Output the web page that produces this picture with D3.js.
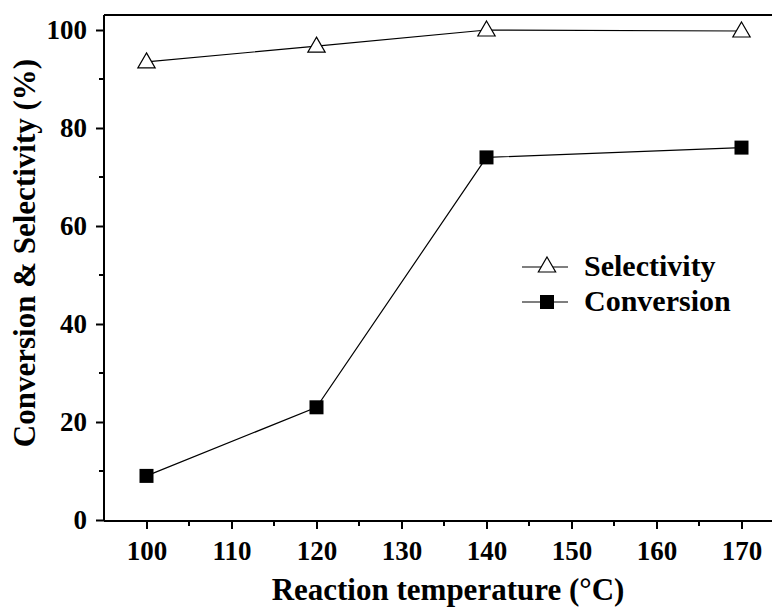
<!DOCTYPE html>
<html>
<head>
<meta charset="utf-8">
<script src="https://cdn.jsdelivr.net/npm/d3@7"></script>
<style>
  body { margin: 0; background: #fff; }
  text { font-family: "Liberation Serif", "Times New Roman", serif; font-weight: bold; fill: #000; }
</style>
</head>
<body>
<svg id="chart"></svg>
<script>
const temperatures = [100, 120, 140, 170];
const selectivity = [93.5, 96.7, 100, 99.8];
const conversion = [9, 23, 74, 76];
const xTicks = [100, 110, 120, 130, 140, 150, 160, 170];
const yTicks = [0, 20, 40, 60, 80, 100];

const width = 772, height = 610;

const svg = d3.select("#chart")
    .attr("width", width)
    .attr("height", height)
    .style("display", "block");

const x = d3.scaleLinear().domain([95, 175]).range([104, 784]);
const y = d3.scaleLinear().domain([0, 100]).range([520, 30]);

const plotTop = 15;
const plotBottom = 521;

// frame top line
svg.append("line")
    .attr("x1", x(95)).attr("x2", width)
    .attr("y1", plotTop).attr("y2", plotTop)
    .attr("stroke", "#000").attr("stroke-width", 2);

// x axis + minor ticks
const gx = svg.append("g").attr("transform", `translate(0,${plotBottom})`);
gx.selectAll("line.minor")
    .data(d3.range(105, 176, 10))
    .join("line")
    .attr("class", "minor")
    .attr("x1", d => x(d)).attr("x2", d => x(d))
    .attr("y1", 0).attr("y2", 5)
    .attr("stroke", "#000").attr("stroke-width", 2);

const xAxis = d3.axisBottom(x).tickValues(xTicks).tickSize(8).tickPadding(12).tickSizeOuter(0);
gx.call(xAxis);
gx.attr("font-family", null).attr("font-size", null);
gx.select(".domain").attr("stroke-width", 2).attr("d", `M${x(95)},0H${width}`);
gx.selectAll(".tick line").attr("stroke-width", 2);
gx.selectAll(".tick text").attr("font-size", 27);

// y axis + minor ticks
const gy = svg.append("g").attr("transform", `translate(${x(95)},0)`);
gy.selectAll("line.minor")
    .data(d3.range(10, 100, 20))
    .join("line")
    .attr("class", "minor")
    .attr("x1", 0).attr("x2", -5)
    .attr("y1", d => y(d)).attr("y2", d => y(d))
    .attr("stroke", "#000").attr("stroke-width", 2);

const yAxis = d3.axisLeft(y).tickValues(yTicks).tickSize(8).tickPadding(9).tickSizeOuter(0);
gy.call(yAxis);
gy.attr("font-family", null).attr("font-size", null);
gy.select(".domain").attr("stroke-width", 2).attr("d", `M0,${plotTop}V${plotBottom}`);
gy.selectAll(".tick line").attr("stroke-width", 2);
gy.selectAll(".tick text").attr("font-size", 27);

// axis titles
svg.append("text")
    .attr("x", 448).attr("y", 600)
    .attr("text-anchor", "middle")
    .attr("font-size", 31)
    .text("Reaction temperature (°C)");

svg.append("text")
    .attr("transform", `translate(35,253) rotate(-90)`)
    .attr("text-anchor", "middle")
    .attr("font-size", 31)
    .text("Conversion & Selectivity (%)");

// lines
const line = d3.line().x(d => x(d[0])).y(d => y(d[1]));
const selData = temperatures.map((t, i) => [t, selectivity[i]]);
const convData = temperatures.map((t, i) => [t, conversion[i]]);

svg.append("path").datum(selData)
    .attr("d", line).attr("fill", "none").attr("stroke", "#000").attr("stroke-width", 1.2);
svg.append("path").datum(convData)
    .attr("d", line).attr("fill", "none").attr("stroke", "#000").attr("stroke-width", 1.2);

const triangle = d3.symbol().type(d3.symbolTriangle).size(130);

svg.selectAll("path.sel")
    .data(selData)
    .join("path")
    .attr("class", "sel")
    .attr("transform", d => `translate(${x(d[0])},${y(d[1]) + 1})`)
    .attr("d", triangle)
    .attr("fill", "#fff").attr("stroke", "#000").attr("stroke-width", 1.2);

svg.selectAll("rect.conv")
    .data(convData)
    .join("rect")
    .attr("class", "conv")
    .attr("x", d => x(d[0]) - 7).attr("y", d => y(d[1]) - 7)
    .attr("width", 14).attr("height", 14)
    .attr("fill", "#000");

// legend
const legend = svg.append("g");
const legendItems = [
    { name: "Selectivity", y: 267, marker: "tri" },
    { name: "Conversion", y: 302, marker: "sq" }
];
legendItems.forEach(item => {
    legend.append("line")
        .attr("x1", 522).attr("x2", 568)
        .attr("y1", item.y).attr("y2", item.y)
        .attr("stroke", "#000").attr("stroke-width", 1.2);
    if (item.marker === "tri") {
        legend.append("path")
            .attr("transform", `translate(547,${item.y})`)
            .attr("d", triangle)
            .attr("fill", "#fff").attr("stroke", "#000").attr("stroke-width", 1.2);
    } else {
        legend.append("rect")
            .attr("x", 540).attr("y", item.y - 7)
            .attr("width", 14).attr("height", 14)
            .attr("fill", "#000");
    }
    legend.append("text")
        .attr("x", 584).attr("y", item.y + 9)
        .attr("font-size", 30)
        .text(item.name);
});
</script>
</body>
</html>
